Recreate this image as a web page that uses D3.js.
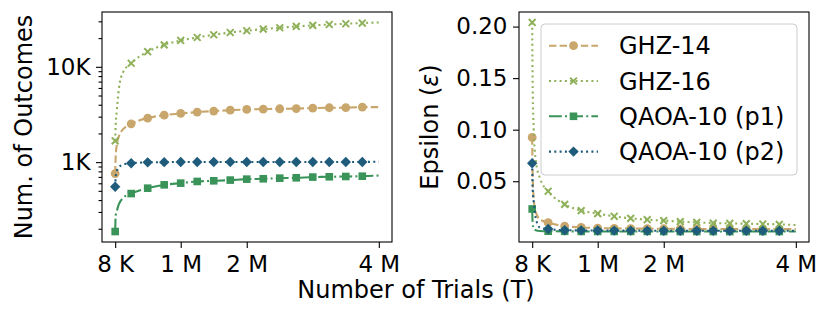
<!DOCTYPE html>
<meta charset="utf-8">
<style>

body { margin: 0; background: #fff; }

text {
  font-family: "DejaVu Sans", sans-serif;
  fill: #000;
}

.frame {
  fill: none;
  stroke: #000;
  stroke-width: 1.1px;
}

.tick line { stroke: #000; stroke-width: 1.1px; }

</style>
<svg width="831" height="315"></svg>
<script src="https://d3js.org/d3.v7.min.js"></script>

<script>

// number of trials per sample
var trials = [8192, 16384, 32768, 65536, 131072,
  262144, 524288, 786432, 1048576, 1310720, 1572864, 1835008, 2097152,
  2359296, 2621440, 2883584, 3145728, 3407872, 3670016, 3932160, 4194304];

var xTicks = [8192, 1048576, 2097152, 4194304];
var xTickLabels = ["8 K", "1 M", "2 M", "4 M"];

var seriesNames = ["GHZ-14", "GHZ-16", "QAOA-10 (p1)", "QAOA-10 (p2)"];

// number of distinct outcomes
var outGhz14 = [759, 1150, 1500, 1850, 2200, 2520, 2900, 3110, 3240, 3350, 3430, 3510, 3570, 3600, 3630, 3650, 3690, 3720, 3730, 3780, 3780];
var outGhz16 = [1670, 2500, 3400, 5800, 8700, 10900, 14400, 17000, 18900, 20300, 21700, 22900, 23900, 24900, 25700, 26500, 27200, 27800, 28300, 28800, 29200];
var outQaoaP1 = [187, 275, 305, 360, 420, 468, 533, 578, 602, 627, 637, 648, 663, 669, 679, 685, 697, 702, 707, 712, 724];
var outQaoaP2 = [551, 700, 800, 880, 940, 975, 995, 1000, 1005, 1005, 1005, 1005, 1005, 1005, 1005, 1005, 1005, 1005, 1005, 1005, 1010];

// epsilon
var epsGhz14 = [0.0925, 0.055, 0.033, 0.020, 0.013, 0.0098, 0.0065, 0.0052, 0.0046, 0.0043, 0.0041, 0.0040, 0.0039, 0.0038, 0.0037, 0.0037, 0.0036, 0.0036, 0.0035, 0.0035, 0.0035];
var epsGhz16 = [0.204, 0.140, 0.100, 0.070, 0.053, 0.0403, 0.0276, 0.0215, 0.0186, 0.0160, 0.0140, 0.0127, 0.0118, 0.0108, 0.0101, 0.0094, 0.0091, 0.0088, 0.0085, 0.0082, 0.0075];
var epsQaoaP1 = [0.0231, 0.009, 0.004, 0.0025, 0.0018, 0.0015, 0.0014, 0.0013, 0.0013, 0.0013, 0.0013, 0.0013, 0.0012, 0.0012, 0.0012, 0.0012, 0.0012, 0.0012, 0.0012, 0.0012, 0.0012];
var epsQaoaP2 = [0.0675, 0.042, 0.030, 0.014, 0.005, 0.0036, 0.0025, 0.0023, 0.0022, 0.0021, 0.0021, 0.0020, 0.0020, 0.0020, 0.0020, 0.0020, 0.0020, 0.0020, 0.0020, 0.0020, 0.0020];

var epsTicks = [0.05, 0.10, 0.15, 0.20];

var styles = [
  {color: "#c8a66c", dash: "7.4,3.2", marker: "circle"},
  {color: "#8fb15a", dash: "2,3.3", marker: "x"},
  {color: "#3a9459", dash: "12.8,3.2,2,3.2", marker: "square"},
  {color: "#1f5b7b", dash: "2,3.3", marker: "diamond"}
];

var svg = d3.select("svg");
var fs = 24,      // labels and legend
    tickFs = 23;  // tick labels

function hasMarker(t) {
  return t === 8192 || (t % 262144 === 0 && t < 4194304);
}

function pad(lo, hi) {
  var r = hi - lo;
  return [lo - r * 0.05, hi + r * 0.05];
}

function drawMarker(g, type, color) {
  if (type === "circle") {
    g.append("circle").attr("r", 4.4).attr("fill", color);
  } else if (type === "square") {
    g.append("rect").attr("x", -3.8).attr("y", -3.8).attr("width", 7.6).attr("height", 7.6).attr("fill", color);
  } else if (type === "diamond") {
    g.append("path").attr("d", "M0,-5.2L5.2,0L0,5.2L-5.2,0Z").attr("fill", color);
  } else {
    g.append("path").attr("d", "M-3.4,-3.4L3.4,3.4M-3.4,3.4L3.4,-3.4")
      .attr("stroke", color).attr("stroke-width", 2).attr("fill", "none");
  }
}

function panel(box, data, y, yTicks, yFormat, minorTicks) {
  var x = d3.scaleLinear()
      .domain(pad(trials[0], trials[trials.length - 1]))
      .range([box.x0, box.x1]);

  var g = svg.append("g");

  g.append("g")
      .attr("transform", "translate(0," + box.y1 + ")")
      .call(d3.axisBottom(x).tickValues(xTicks).tickFormat(function(d, i) { return xTickLabels[i]; })
        .tickSize(6).tickPadding(8))
      .call(function(a) { a.select(".domain").remove(); })
      .selectAll("text").style("font-size", tickFs + "px").style("font-family", "DejaVu Sans");

  var yAxis = d3.axisLeft(y).tickValues(yTicks).tickFormat(yFormat).tickSize(6).tickPadding(5.5);
  g.append("g")
      .attr("transform", "translate(" + box.x0 + ",0)")
      .call(yAxis)
      .call(function(a) { a.select(".domain").remove(); })
      .selectAll("text").style("font-size", tickFs + "px").style("font-family", "DejaVu Sans");

  if (minorTicks) {
    g.append("g")
        .attr("transform", "translate(" + box.x0 + ",0)")
        .call(d3.axisLeft(y).tickValues(minorTicks).tickFormat("").tickSize(3.5))
        .call(function(a) { a.select(".domain").remove(); });
  }

  var clip = "clip" + box.x0;
  svg.append("clipPath").attr("id", clip).append("rect")
      .attr("x", box.x0).attr("y", box.y0)
      .attr("width", box.x1 - box.x0).attr("height", box.y1 - box.y0);

  var plot = g.append("g").attr("clip-path", "url(#" + clip + ")");

  var line = d3.line()
      .x(function(d, i) { return x(trials[i]); })
      .y(function(d) { return y(d); })
      .curve(d3.curveMonotoneX);

  data.forEach(function(vals, k) {
    var s = styles[k];
    plot.append("path")
        .attr("d", line(vals))
        .attr("fill", "none")
        .attr("stroke", s.color)
        .attr("stroke-width", 2.1)
        .attr("stroke-dasharray", s.dash);

    vals.forEach(function(v, i) {
      if (!hasMarker(trials[i])) return;
      var m = plot.append("g").attr("transform", "translate(" + x(trials[i]) + "," + y(v) + ")");
      drawMarker(m, s.marker, s.color);
    });
  });

  g.append("rect").attr("class", "frame")
      .attr("x", box.x0).attr("y", box.y0)
      .attr("width", box.x1 - box.x0).attr("height", box.y1 - box.y0);

  return g;
}

// left panel: outcomes, log scale
var leftBox = {x0: 102, x1: 392, y0: 12, y1: 242};
var outAll = outGhz14.concat(outGhz16, outQaoaP1, outQaoaP2);
var logExt = pad(Math.log10(d3.min(outAll)), Math.log10(d3.max(outAll)));
var yLeft = d3.scaleLog()
    .domain([Math.pow(10, logExt[0]), Math.pow(10, logExt[1])])
    .range([leftBox.y1, leftBox.y0]);

var minor = [];
[100, 1000, 10000].forEach(function(b) {
  for (var m = 2; m <= 9; m++) {
    var v = b * m;
    if (v >= yLeft.domain()[0] && v <= yLeft.domain()[1]) minor.push(v);
  }
});

panel(leftBox, [outGhz14, outGhz16, outQaoaP1, outQaoaP2], yLeft,
  [1000, 10000], function(d) { return (d / 1000) + "K"; }, minor);

// right panel: epsilon
var rightBox = {x0: 519, x1: 809, y0: 12, y1: 242};
var epsAll = epsGhz14.concat(epsGhz16, epsQaoaP1, epsQaoaP2);
var yRight = d3.scaleLinear()
    .domain(pad(d3.min(epsAll), d3.max(epsAll)))
    .range([rightBox.y1, rightBox.y0]);

panel(rightBox, [epsGhz14, epsGhz16, epsQaoaP1, epsQaoaP2], yRight,
  epsTicks, d3.format(".2f"), null);

// axis labels
svg.append("text")
    .attr("transform", "translate(32,127) rotate(-90)")
    .attr("text-anchor", "middle")
    .style("font-size", fs + "px")
    .text("Num. of Outcomes");

var eps = svg.append("text")
    .attr("transform", "translate(438,127) rotate(-90)")
    .attr("text-anchor", "middle")
    .style("font-size", fs + "px");
eps.append("tspan").text("Epsilon (");
eps.append("tspan").style("font-style", "italic").text("ε");
eps.append("tspan").text(")");

svg.append("text")
    .attr("x", 416).attr("y", 298)
    .attr("text-anchor", "middle")
    .style("font-size", fs + "px")
    .text("Number of Trials (T)");

// legend
var leg = svg.append("g");
leg.append("rect")
    .attr("x", 541).attr("y", 24).attr("width", 256).attr("height", 151)
    .attr("rx", 4)
    .attr("fill", "#fff").attr("fill-opacity", 0.8)
    .attr("stroke", "#cccccc").attr("stroke-width", 1);

seriesNames.forEach(function(name, k) {
  var s = styles[k];
  var row = leg.append("g").attr("transform", "translate(0," + (45.7 + k * 35.3) + ")");
  row.append("line")
      .attr("x1", 549).attr("x2", 598)
      .attr("stroke", s.color).attr("stroke-width", 2.1)
      .attr("stroke-dasharray", s.dash);
  drawMarker(row.append("g").attr("transform", "translate(573.5,0)"), s.marker, s.color);
  row.append("text")
      .attr("x", 619).attr("dy", "0.36em")
      .style("font-size", fs + "px")
      .text(name);
});

</script>
